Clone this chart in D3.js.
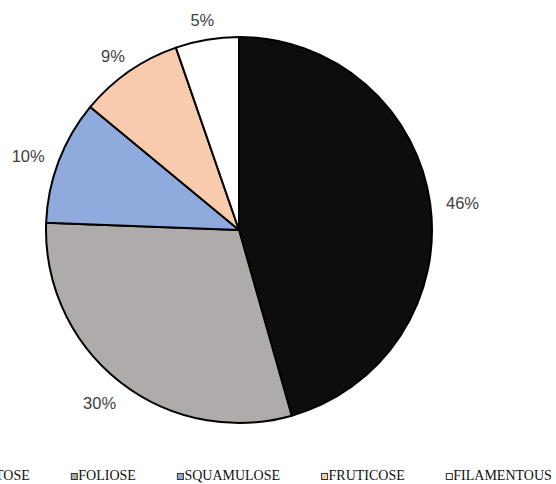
<!DOCTYPE html>
<html><head><meta charset="utf-8">
<script src="https://cdn.jsdelivr.net/npm/d3@7"></script>
<style>body{margin:0;background:#fff}svg{display:block}</style>
</head><body>
<script>
const categories = ["CRUSTOSE","FOLIOSE","SQUAMULOSE","FRUTICOSE","FILAMENTOUS"];
const values = [45.6,30.0,10.4,8.7,5.3];
const labels = ["46%","30%","10%","9%","5%"];
const colors = ["#0d0d0d","#afabab","#8faadc","#f8cbad","#ffffff"];

const W=556,H=484, cx=239, cy=230, r=193;
const svg=d3.select("body").append("svg").attr("width",W).attr("height",H);
const g=svg.append("g").attr("transform",`translate(${cx},${cy})`);
const pie=d3.pie().sort(null).value(d=>d)(values);
const arc=d3.arc().innerRadius(0).outerRadius(r);
g.selectAll("path.slice").data(pie).join("path").attr("class","slice")
 .attr("d",arc).attr("fill",(d,i)=>colors[i]).attr("stroke","#000").attr("stroke-width",2).attr("stroke-linejoin","round");

const lab=g.selectAll("text.lab").data(pie).join("text").attr("class","lab")
 .attr("font-family","'Liberation Sans', Arial, sans-serif").attr("font-size",16.5).attr("fill","#404040")
 .attr("text-anchor","middle").attr("dominant-baseline","central").text((d,i)=>labels[i]);
lab.each(function(d){
  const a=(d.startAngle+d.endAngle)/2, dx=Math.sin(a), dy=-Math.cos(a);
  const bb=this.getBBox(); const w=bb.width, h=14;
  const R0=209;
  d3.select(this).attr("x",dx*R0+dx*w/2).attr("y",dy*R0+dy*h/2+3);
});

const lg=svg.append("g");
let x=-49;
categories.forEach((c,i)=>{
  lg.append("rect").attr("x",x+0.5).attr("y",473.5).attr("width",6).attr("height",6)
    .attr("fill",colors[i]).attr("stroke","#333").attr("stroke-width",1);
  const t=lg.append("text").attr("x",x+7.5).attr("y",480).attr("font-family","'Liberation Serif','Times New Roman',serif")
    .attr("font-size",14).attr("fill","#111").text(c);
  x += 7.5 + t.node().getComputedTextLength() + 41;
});
</script>
</body></html>
